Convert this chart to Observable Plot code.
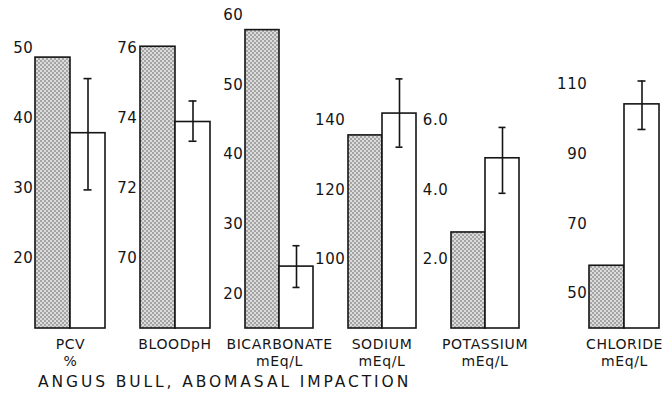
<!DOCTYPE html>
<html><head><meta charset="utf-8">
<script src="https://cdn.jsdelivr.net/npm/d3@7"></script>
<script src="https://cdn.jsdelivr.net/npm/@observablehq/plot@0.6"></script>
<style>
body{margin:0;background:#fff;}
#chart{position:relative;width:665px;height:393px;overflow:hidden;background:#fff;font-family:"DejaVu Sans",sans-serif;color:#151515;}
#chart svg{position:absolute;left:0;top:0;}
#title{position:absolute;left:38px;top:375px;font-size:15.5px;line-height:15px;letter-spacing:2.9px;white-space:nowrap;}
</style></head>
<body><div id="chart"><div id="title"></div></div>
<script>
// ---- data ----
const panels = ["PCV", "BLOODpH", "BICARBONATE", "SODIUM", "POTASSIUM", "CHLORIDE"];
const units = ["%", "", "mEq/L", "mEq/L", "mEq/L", "mEq/L"];
const groups = ["Normal", "Affected"];
const normalValues = [48.7, 76.05, 57.9, 135.7, 2.77, 58];
const affectedValues = [37.9, 73.9, 23.9, 142, 4.91, 104.3];
const errorLow = [29.8, 73.35, 20.9, 132.3, 3.9, 97.1];
const errorHigh = [45.7, 74.5, 26.9, 152, 5.8, 111];
const axisBase = [10, 68, 15, 80, 0, 40];
const tickValues = [[20, 30, 40, 50], [70, 72, 74, 76], [20, 30, 40, 50, 60], [100, 120, 140], [2, 4, 6], [50, 70, 90, 110]];
const tickDecimals = [0, 0, 0, 0, 1, 0];
const title = "ANGUS BULL, ABOMASAL IMPACTION";

// ---- layout (pixels) ----
const W = 665, H = 393, baseY = 328;
const barLeft = [35, 139, 245, 347, 450, 589];
const barRight = [105, 210, 313, 416, 519, 659];
const topTickY = [48, 48, 15, 120, 120, 84];

const chart = document.getElementById("chart");
document.getElementById("title").textContent = title;

panels.forEach((name, i) => {
  const base = axisBase[i];
  const ticks = tickValues[i];
  const normal = [{group: groups[0], base, value: normalValues[i]}];
  const affected = [{group: groups[1], base, value: affectedValues[i]}];
  const err = [{group: groups[1], lo: errorLow[i], hi: errorHigh[i]}];
  const label = units[i] ? name + "\n" + units[i] : name;
  const pid = "stipple" + i;
  const svg = Plot.plot({
    width: W, height: H,
    marginLeft: barLeft[i], marginRight: W - barRight[i], marginTop: 0, marginBottom: H - baseY,
    style: {background: "transparent", fontFamily: "DejaVu Sans, sans-serif", color: "#151515", overflow: "visible"},
    x: {domain: groups, padding: 0, axis: null},
    y: {domain: [base, ticks[ticks.length - 1]], range: [baseY, topTickY[i]], axis: null},
    marks: [
      Plot.axisY({ticks, tickSize: 0, tickPadding: 2, tickFormat: d => d.toFixed(tickDecimals[i]), fontSize: 15, label: null, fill: "#151515"}),
      Plot.barY(normal, {x: "group", y1: "base", y2: "value", fill: `url(#${pid})`, stroke: "#151515", strokeWidth: 1.6}),
      Plot.barY(affected, {x: "group", y1: "base", y2: "value", fill: "white", stroke: "#151515", strokeWidth: 1.6}),
      Plot.ruleX(err, {x: "group", y1: "lo", y2: "hi", stroke: "#151515", strokeWidth: 1.6}),
      Plot.tickY(err, {x: "group", y: "lo", insetLeft: 13.5, insetRight: 13.5, stroke: "#151515", strokeWidth: 1.6}),
      Plot.tickY(err, {x: "group", y: "hi", insetLeft: 13.5, insetRight: 13.5, stroke: "#151515", strokeWidth: 1.6}),
      Plot.text([label], {frameAnchor: "bottom", lineAnchor: "top", dy: 8, text: d => d, lineHeight: 1.25, fontSize: 14, fill: "#151515"})
    ]
  });
  const defs = d3.select(svg).insert("defs", ":first-child");
  const p = defs.append("pattern").attr("id", pid).attr("patternUnits", "userSpaceOnUse").attr("width", 4).attr("height", 4);
  p.append("rect").attr("width", 4).attr("height", 4).attr("fill", "#dcdcdc");
  p.append("rect").attr("width", 2).attr("height", 2).attr("fill", "#a4a4a4");
  p.append("rect").attr("x", 2).attr("y", 2).attr("width", 2).attr("height", 2).attr("fill", "#a4a4a4");
  d3.select(svg).selectAll("text").attr("letter-spacing", "0.6px");
  chart.appendChild(svg);
});
</script>
</body></html>
